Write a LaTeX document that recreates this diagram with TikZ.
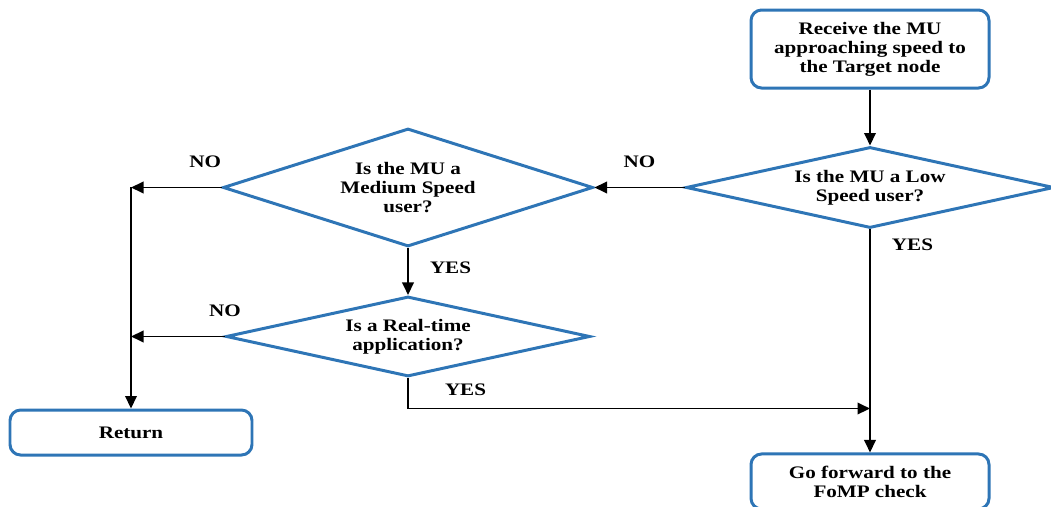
\documentclass[tikz,border=0pt]{standalone}
\usepackage{fontspec}
\setmainfont{Liberation Serif}[FakeStretch=1.2]
\usetikzlibrary{arrows.meta, positioning, shapes.geometric}
\definecolor{stepblue}{HTML}{2E75B6}

\begin{document}
\begin{tikzpicture}[
    node distance=1cm,
    font=\fontsize{10}{10.8}\selectfont\bfseries,
    actionbox/.style={
        draw=stepblue,
        line width=1.7pt,
        rounded corners=6pt,
        fill=white,
        align=center,
        minimum width=4.76cm
    },
    decision/.style={
        diamond,
        draw=stepblue,
        line width=1.7pt,
        align=center,
        inner sep=0pt,
        aspect=4
    },
    flow/.style={
        -{Triangle[length=2.5mm, width=2.3mm]},
        line width=1.1pt
    },
    answer/.style={
        inner sep=2pt
    }
]
    \useasboundingbox (0,0) rectangle (21.02,-10.12);

    \node[actionbox, minimum height=1.56cm] (receive) at (17.4,-0.98)
        {Receive the MU\\approaching speed to\\the Target node};
    \node[decision, minimum width=7.36cm, minimum height=1.62cm, below=1.12cm of receive] (lowq)
        {Is the MU a Low\\Speed user?};
    \node[decision, minimum width=7.4cm, minimum height=2.36cm, left=1.8cm of lowq] (medq)
        {Is the MU a\\Medium Speed\\user?};
    \node[decision, minimum width=7.28cm, minimum height=1.6cm, below=0.94cm of medq] (realq)
        {Is a Real-time\\application?};
    \node[actionbox, minimum width=4.84cm, minimum height=0.9cm] (retbox) at (2.62,-8.65) {Return};
    \node[actionbox, minimum height=1.1cm, below=4.46cm of lowq] (gobox)
        {Go forward to the\\FoMP check};

    \draw[flow] (receive) -- (lowq);
    \draw[flow] (lowq) -- node[answer, above=0.3cm] (noLow) {NO} (medq);
    \draw[flow] (lowq.south) -- node[answer, right=0.35cm, pos=0.07] (yesLow) {YES} (gobox.north);

    \draw[flow] (medq.west) -- node[answer, above=0.3cm, pos=0.18] (noMed) {NO} (medq.west -| retbox.north);
    \draw[flow] (medq.west -| retbox.north) -- (retbox.north);
    \draw[flow] (medq.south) -- node[answer, right=0.35cm, pos=0.43] (yesMed) {YES} (realq.north);

    \draw[flow] (realq.west) -- (realq.west -| retbox.north);
    \node[answer] (noReal) at (4.5,-6.22) {NO};
    \draw[flow] (realq.south) |- node[answer, right=0.65cm, pos=0.2] (yesReal) {YES} (lowq.south |- retbox.north);
\end{tikzpicture}
\end{document}
